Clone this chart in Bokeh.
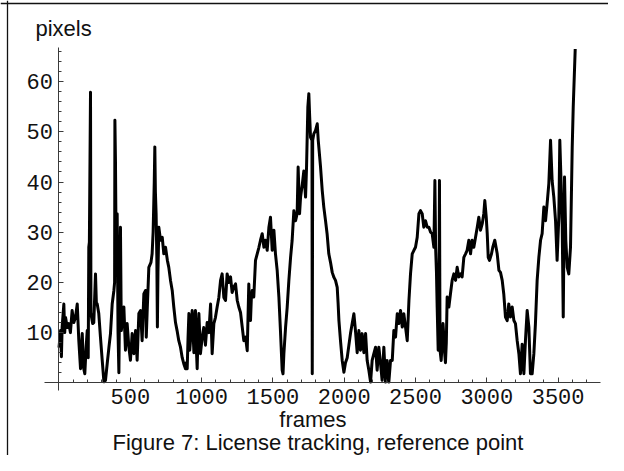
from bokeh.plotting import figure
from bokeh.models import FixedTicker, Label, Span
from bokeh.embed import file_html
from bokeh.resources import INLINE

# ---- data (frame index, tracked reference point offset in pixels)
frames = [
    0, 11, 17, 22, 34, 40, 46, 58, 69, 80, 92, 104, 116, 128, 139, 151, 157, 163, 172, 181,
    190, 198, 205, 209, 213, 221, 224, 228, 236, 244, 256, 262, 268, 279, 291, 303, 315, 326,
    338, 350, 361, 373, 385, 390, 392, 396, 399, 402, 405, 408, 414, 420, 426, 431, 437, 443,
    455, 466, 478, 490, 501, 513, 525, 537, 548, 560, 572, 583, 595, 607, 612, 618, 630, 645,
    653, 660, 668, 672, 676, 681, 686, 690, 694, 700, 712, 724, 735, 747, 760, 770, 782, 794,
    805, 817, 828, 840, 852, 864, 875, 887, 893, 899, 905, 911, 917, 922, 934, 946, 951, 957,
    963, 969, 975, 981, 992, 1004, 1015, 1027, 1039, 1051, 1063, 1074, 1086, 1097, 1109, 1121,
    1133, 1144, 1156, 1168, 1179, 1191, 1203, 1214, 1226, 1238, 1250, 1261, 1273, 1285, 1296,
    1308, 1320, 1331, 1337, 1343, 1349, 1355, 1366, 1378, 1390, 1402, 1413, 1425, 1437, 1448,
    1460, 1472, 1483, 1495, 1507, 1518, 1530, 1542, 1553, 1565, 1571, 1577, 1589, 1600, 1612,
    1624, 1635, 1647, 1659, 1670, 1677, 1687, 1694, 1706, 1717, 1729, 1736, 1745, 1752, 1758,
    1764, 1774, 1776, 1779, 1787, 1799, 1811, 1818, 1834, 1846, 1857, 1869, 1880, 1892, 1904,
    1916, 1928, 1939, 1951, 1957, 1963, 1974, 1986, 1998, 2009, 2021, 2033, 2044, 2056, 2068,
    2079, 2091, 2103, 2114, 2126, 2138, 2150, 2161, 2173, 2185, 2196, 2208, 2220, 2231, 2243,
    2255, 2266, 2278, 2290, 2301, 2313, 2325, 2337, 2348, 2360, 2372, 2383, 2395, 2407, 2418,
    2430, 2442, 2454, 2465, 2477, 2489, 2500, 2512, 2524, 2535, 2547, 2558, 2570, 2582, 2594,
    2606, 2617, 2629, 2636, 2641, 2647, 2652, 2659, 2664, 2668, 2672, 2680, 2687, 2693, 2699,
    2705, 2710, 2716, 2722, 2734, 2745, 2757, 2769, 2781, 2792, 2804, 2816, 2827, 2839, 2851,
    2862, 2874, 2886, 2897, 2909, 2921, 2933, 2944, 2956, 2968, 2979, 2986, 2996, 3003, 3010,
    3019, 3033, 3042, 3056, 3073, 3085, 3096, 3108, 3119, 3131, 3143, 3154, 3166, 3178, 3190,
    3201, 3213, 3225, 3236, 3248, 3260, 3271, 3283, 3295, 3306, 3318, 3330, 3341, 3353, 3365,
    3377, 3388, 3400, 3412, 3423, 3435, 3447, 3458, 3470, 3482, 3493, 3505, 3512, 3521, 3529,
    3536, 3545, 3554, 3564, 3575, 3587, 3599, 3606, 3620,
]
pixels = [
    7.0, 10.4, 5.2, 11.1, 15.7, 10.0, 13.0, 11.0, 11.8, 10.0, 14.4, 12.0, 13.1, 15.7, 8.4, 2.8, 7.0, 9.8, 3.0, 1.8,
    7.0, 10.4, 5.0, 27.0, 28.0, 57.9, 14.0, 13.1, 11.8, 12.0, 21.7, 16.0, 15.7, 13.8, 9.0, 4.5, 0.2, 0.5,
    3.8, 7.0, 9.8, 15.7, 18.4, 20.0, 52.3, 44.3, 33.0, 31.7, 25.7, 33.7, 10.0, 2.0, 20.0, 31.0, 10.4, 11.8,
    15.1, 6.5, 11.8, 7.1, 4.5, 9.8, 5.8, 10.4, 4.5, 13.8, 14.4, 8.4, 17.7, 18.4, 9.1, 14.0, 23.0, 24.0,
    25.7, 30.0, 40.0, 47.0, 38.0, 33.7, 25.0, 11.1, 22.0, 31.0, 28.4, 29.0, 25.7, 27.0, 24.4, 23.0, 20.4, 18.4,
    15.1, 12.0, 10.4, 8.4, 7.1, 5.0, 3.8, 2.8, 4.0, 2.8, 9.0, 13.8, 6.5, 8.4, 14.4, 6.0, 12.0, 14.4,
    7.0, 2.8, 10.0, 13.8, 5.8, 9.0, 11.0, 7.5, 12.0, 10.0, 15.7, 5.8, 11.8, 13.0, 15.1, 17.0,
    20.4, 21.7, 17.0, 16.4, 21.7, 20.0, 21.1, 18.0, 19.1, 19.7, 16.4, 15.1, 14.0, 11.1, 8.4,
    9.1, 6.4, 19.7, 14.0, 12.4, 17.0, 18.4, 17.1, 24.4, 25.7, 27.0, 28.4, 29.7, 27.0, 28.4,
    26.4, 31.0, 33.0, 26.4, 30.4, 25.7, 22.4, 17.1, 10.4, 2.5, 1.8, 5.8, 11.1, 15.0, 20.4,
    25.0, 28.4, 34.3, 32.3, 33.7, 43.0, 33.7, 37.0, 39.5, 42.2, 37.0, 43.0, 54.9, 57.6, 53.0,
    48.9, 48.3, 1.8, 48.3, 49.6, 50.3, 51.6, 48.3, 43.0, 38.3, 35.0, 32.3, 29.7, 25.7, 24.0,
    22.0, 21.0, 20.4, 19.0, 16.0, 12.4, 8.4, 4.45, 2.1, 4.0, 5.0, 7.5, 9.8, 11.8, 13.75,
    10.4, 6.0, 10.4, 6.5, 9.8, 6.0, 9.8, 4.45, 2.5, 0.14, 4.45, 5.8, 7.1, 2.5, 7.1,
    3.8, 0.5, 7.1, 0.14, 4.45, 0.14, 4.45, 4.45, 10.4, 9.1, 13.75, 11.8, 14.4, 11.1, 13.75,
    11.1, 8.4, 16.4, 21.7, 25.7, 26.4, 27.0, 29.0, 33.7, 34.3, 33.7, 31.0, 32.3, 31.0, 31.0,
    30.0, 29.7, 27.0, 40.3, 27.0, 22.0, 15.0, 6.5, 9.0, 40.3, 6.5, 4.45, 8.0, 11.8, 9.0,
    5.8, 4.0, 8.0, 17.1, 15.1, 17.7, 20.4, 21.7, 20.4, 23.0, 21.1, 21.7, 21.1, 25.0, 25.7,
    26.4, 28.4, 25.7, 28.4, 27.0, 29.0, 31.0, 33.0, 30.4, 31.7, 33.7, 36.3, 33.0, 29.7, 25.0,
    24.4, 25.7, 27.0, 28.4, 25.7, 22.4, 22.0, 20.4, 17.7, 13.1, 12.4, 15.7, 13.1, 15.1, 12.4,
    11.8, 8.4, 5.8, 1.8, 7.7, 1.8, 8.4, 14.4, 11.1, 1.8, 1.8, 5.8, 11.8, 20.4, 25.0,
    28.4, 29.7, 35.0, 32.3, 35.7, 39.7, 48.3, 40.3, 37.0, 32.3, 24.4, 33.0, 48.3, 39.7, 31.0,
    13.1, 41.0, 28.4, 23.0, 21.7, 27.0, 47.0, 54.9, 66.5,
]

x_major_ticks = [500, 1000, 1500, 2000, 2500, 3000, 3500]
x_tick_labels = ["500", "1000", "1500", "2000", "2500", "3000", "3500"]
x_minor_ticks = [t for t in range(100, 3800, 100) if t % 500 != 0]
y_major_ticks = [10, 20, 30, 40, 50, 60]
y_tick_labels = ["10", "20", "30", "40", "50", "60"]
y_minor_ticks = [t for t in range(2, 67, 2) if t % 10 != 0]

x_label = "frames"
y_label = "pixels"
caption = "Figure 7: License tracking, reference point"

p = figure(width=608, height=455, output_backend="svg", toolbar_location=None, tools="",
           x_range=(-410.2, 3853.4), y_range=(-14.48, 76.16), min_border=0)
p.outline_line_color = None
p.grid.visible = False
p.background_fill_color = "white"
p.border_fill_color = "white"

# figure frame (top and left edges, as in the cropped reference)
p.add_layout(Span(location=75.56, dimension="width", line_color="#111", line_width=1.3))
p.add_layout(Span(location=-361.1, dimension="height", line_color="#111", line_width=1.3))

p.line(frames, pixels, line_color="black", line_width=3, line_join="round")

axis_color = "#3a3a3a"
tick_font = "Liberation Mono"

xa = p.xaxis[0]
xa.fixed_location = 0
xa.bounds = (-102, 3797)
xa.ticker = FixedTicker(ticks=x_major_ticks, minor_ticks=x_minor_ticks)
xa.major_label_overrides = dict(zip(x_major_ticks, x_tick_labels))
xa.axis_line_color = axis_color
xa.major_tick_line_color = axis_color
xa.minor_tick_line_color = axis_color
xa.major_tick_in = 5
xa.major_tick_out = 0
xa.minor_tick_in = 3
xa.minor_tick_out = 0
xa.major_label_standoff = 6
xa.major_label_text_font = tick_font
xa.major_label_text_font_size = "22px"
xa.major_label_text_color = "#111"

ya = p.yaxis[0]
ya.fixed_location = 0
ya.bounds = (-1.5, 66.8)
ya.ticker = FixedTicker(ticks=y_major_ticks, minor_ticks=y_minor_ticks)
ya.major_label_overrides = dict(zip(y_major_ticks, y_tick_labels))
ya.axis_line_color = axis_color
ya.major_tick_line_color = axis_color
ya.minor_tick_line_color = axis_color
ya.major_tick_in = 5
ya.major_tick_out = 0
ya.minor_tick_in = 3
ya.minor_tick_out = 0
ya.major_label_standoff = 6
ya.major_label_text_font = tick_font
ya.major_label_text_font_size = "22px"
ya.major_label_text_color = "#111"

label_font = "Liberation Sans"
p.add_layout(Label(x=-165, y=70.6, text=y_label, text_font=label_font, text_font_size="22px",
                   text_align="left", text_baseline="alphabetic", text_color="#111"))
p.add_layout(Label(x=1781, y=-7.3, text=x_label, text_font=label_font, text_font_size="22px",
                   text_align="center", text_baseline="alphabetic", text_color="#111"))
p.add_layout(Label(x=1816, y=-11.8, text=caption, text_font=label_font, text_font_size="22px",
                   text_align="center", text_baseline="alphabetic", text_color="#111"))

open("out.html", "w").write(file_html(p, INLINE))
